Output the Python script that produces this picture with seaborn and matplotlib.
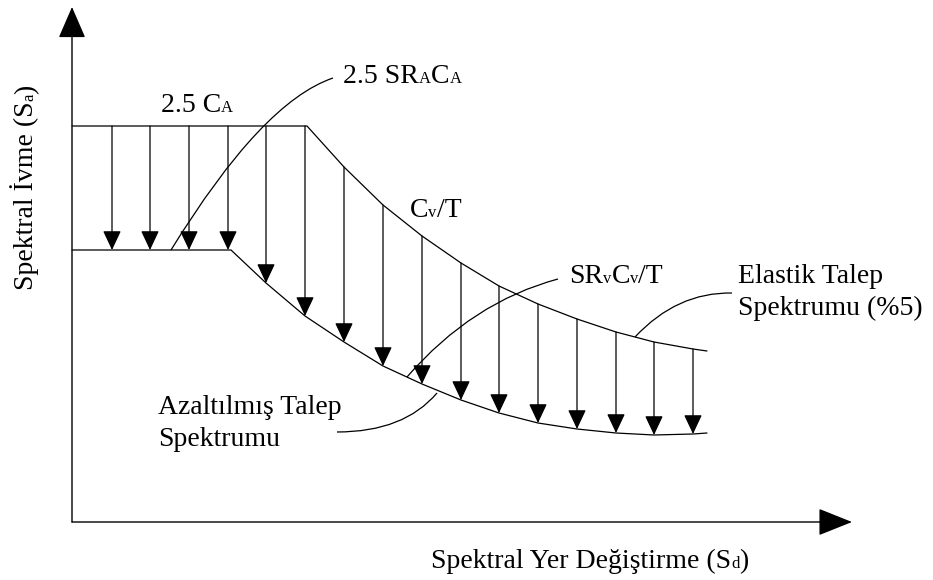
import numpy as np
import pandas as pd
import seaborn as sns
import matplotlib
matplotlib.use('Agg')
import matplotlib.pyplot as plt
from matplotlib.path import Path
from matplotlib.patches import PathPatch
from matplotlib.transforms import offset_copy


# Elastic demand spectrum (5 %)
elastic_sd = [0.00, 2.35, 2.72, 3.11, 3.50, 3.89, 4.27, 4.66, 5.05, 5.44, 5.82, 6.21, 6.35]
elastic_sa = [3.96, 3.96, 3.55, 3.17, 2.86, 2.59, 2.36, 2.18, 2.03, 1.90, 1.80, 1.73, 1.71]

# Reduced demand spectrum
reduced_sd = [0.00, 1.59, 1.94, 2.33, 2.72, 3.11, 3.50, 3.89, 4.27, 4.66, 5.05, 5.44, 5.82, 6.21, 6.35]
reduced_sa = [2.72, 2.72, 2.39, 2.06, 1.80, 1.56, 1.38, 1.22, 1.09, 0.99, 0.93, 0.89, 0.87, 0.88, 0.89]

# Reduction arrows (from elastic down to reduced)
arrow_sd = [0.40, 0.78, 1.17, 1.56, 1.94, 2.33, 2.72, 3.11, 3.50, 3.89, 4.27, 4.66, 5.05, 5.44, 5.82, 6.21]
arrow_top = [3.96, 3.96, 3.96, 3.96, 3.96, 3.96, 3.55, 3.17, 2.86, 2.59, 2.36, 2.18, 2.03, 1.90, 1.80, 1.73]
arrow_bottom = [2.72, 2.72, 2.72, 2.72, 2.39, 2.06, 1.80, 1.56, 1.38, 1.22, 1.09, 0.99, 0.93, 0.89, 0.87, 0.88]

# Text labels: pieces of (text, is_small)
label_ca = [('2.5 C', False), ('A', True)]
label_srca = [('2.5 SR', False), ('A', True), ('C', False), ('A', True)]
label_cvt = [('C', False), ('v', True), ('/T', False)]
label_srcvt = [('SR', False), ('v', True), ('C', False), ('v', True), ('/T', False)]
label_elastic = ['Elastik Talep', 'Spektrumu (%5)']
label_reduced = ['Azaltılmış Talep', 'Spektrumu']
xlabel = [('Spektral Yer Değiştirme (S', False), ('d', True), (')', False)]
ylabel = [('Spektral İvme (S', False), ('a', True), (')', False)]

FONT_SIZE = 20
SMALL = 0.6
LW = 0.9

sns.set_theme(style='white')
plt.rcParams['font.family'] = ['Liberation Serif', 'DejaVu Serif']


def rich_text(ax, x, y, pieces, rotation=0):
    fig = ax.figure
    renderer = fig.canvas.get_renderer()
    off = 0.0
    for s, small in pieces:
        size = FONT_SIZE * (SMALL if small else 1.0)
        if rotation:
            tr = offset_copy(ax.transData, fig=fig, x=0, y=off, units='dots')
        else:
            tr = offset_copy(ax.transData, fig=fig, x=off, y=0, units='dots')
        t = ax.text(x, y, s, transform=tr, fontsize=size, rotation=rotation,
                    rotation_mode='anchor', ha='left', va='baseline', color='black')
        bb = t.get_window_extent(renderer)
        off += bb.height if rotation else bb.width


def leader(ax, start, ctrl, end):
    path = Path([start, ctrl, end], [Path.MOVETO, Path.CURVE3, Path.CURVE3])
    ax.add_patch(PathPatch(path, fill=False, lw=LW, color='black'))


fig = plt.figure(figsize=(9.33, 5.80), dpi=100)
ax = fig.add_axes([0, 0, 1, 1])

# axes drawn as arrows
ax.annotate('', xy=(0, 5.15), xytext=(0, 0),
            arrowprops=dict(arrowstyle='-|>,head_length=1.66,head_width=0.72',
                            color='black', lw=1.0, shrinkA=0, shrinkB=0))
ax.annotate('', xy=(7.80, 0), xytext=(0, 0),
            arrowprops=dict(arrowstyle='-|>,head_length=1.8,head_width=0.72',
                            color='black', lw=1.0, shrinkA=0, shrinkB=0))

# spectra
sns.lineplot(x=elastic_sd, y=elastic_sa, ax=ax, color='black', lw=LW)
sns.lineplot(x=reduced_sd, y=reduced_sa, ax=ax, color='black', lw=LW)

# reduction arrows
for x, top, bot in zip(arrow_sd, arrow_top, arrow_bottom):
    ax.annotate('', xy=(x, bot), xytext=(x, top),
                arrowprops=dict(arrowstyle='-|>,head_length=1.0,head_width=0.47',
                                color='black', lw=LW, shrinkA=0, shrinkB=0))

# leader lines
leader(ax, (0.99, 2.72), (1.90, 4.20), (2.61, 4.44))
leader(ax, (3.35, 1.45), (4.00, 2.20), (4.86, 2.43))
leader(ax, (5.63, 1.85), (6.05, 2.30), (6.60, 2.29))
leader(ax, (2.65, 0.90), (3.32, 0.90), (3.65, 1.29))

ax.set_xlim(-0.72, 8.61)
ax.set_ylim(-0.58, 5.22)
ax.set_axis_off()

# labels
rich_text(ax, 0.89, 4.10, label_ca)
rich_text(ax, 2.71, 4.39, label_srca)
rich_text(ax, 3.38, 3.05, label_cvt)
rich_text(ax, 4.97, 2.39, label_srcvt)
rich_text(ax, 6.66, 2.39, [(label_elastic[0], False)])
rich_text(ax, 6.66, 2.07, [(label_elastic[1], False)])
rich_text(ax, 0.86, 1.08, [(label_reduced[0], False)])
rich_text(ax, 0.86, 0.76, [(label_reduced[1], False)])
rich_text(ax, 3.59, -0.46, xlabel)
rich_text(ax, -0.39, 2.32, ylabel, rotation=90)

fig.savefig('out.png', dpi=100, facecolor='white')
